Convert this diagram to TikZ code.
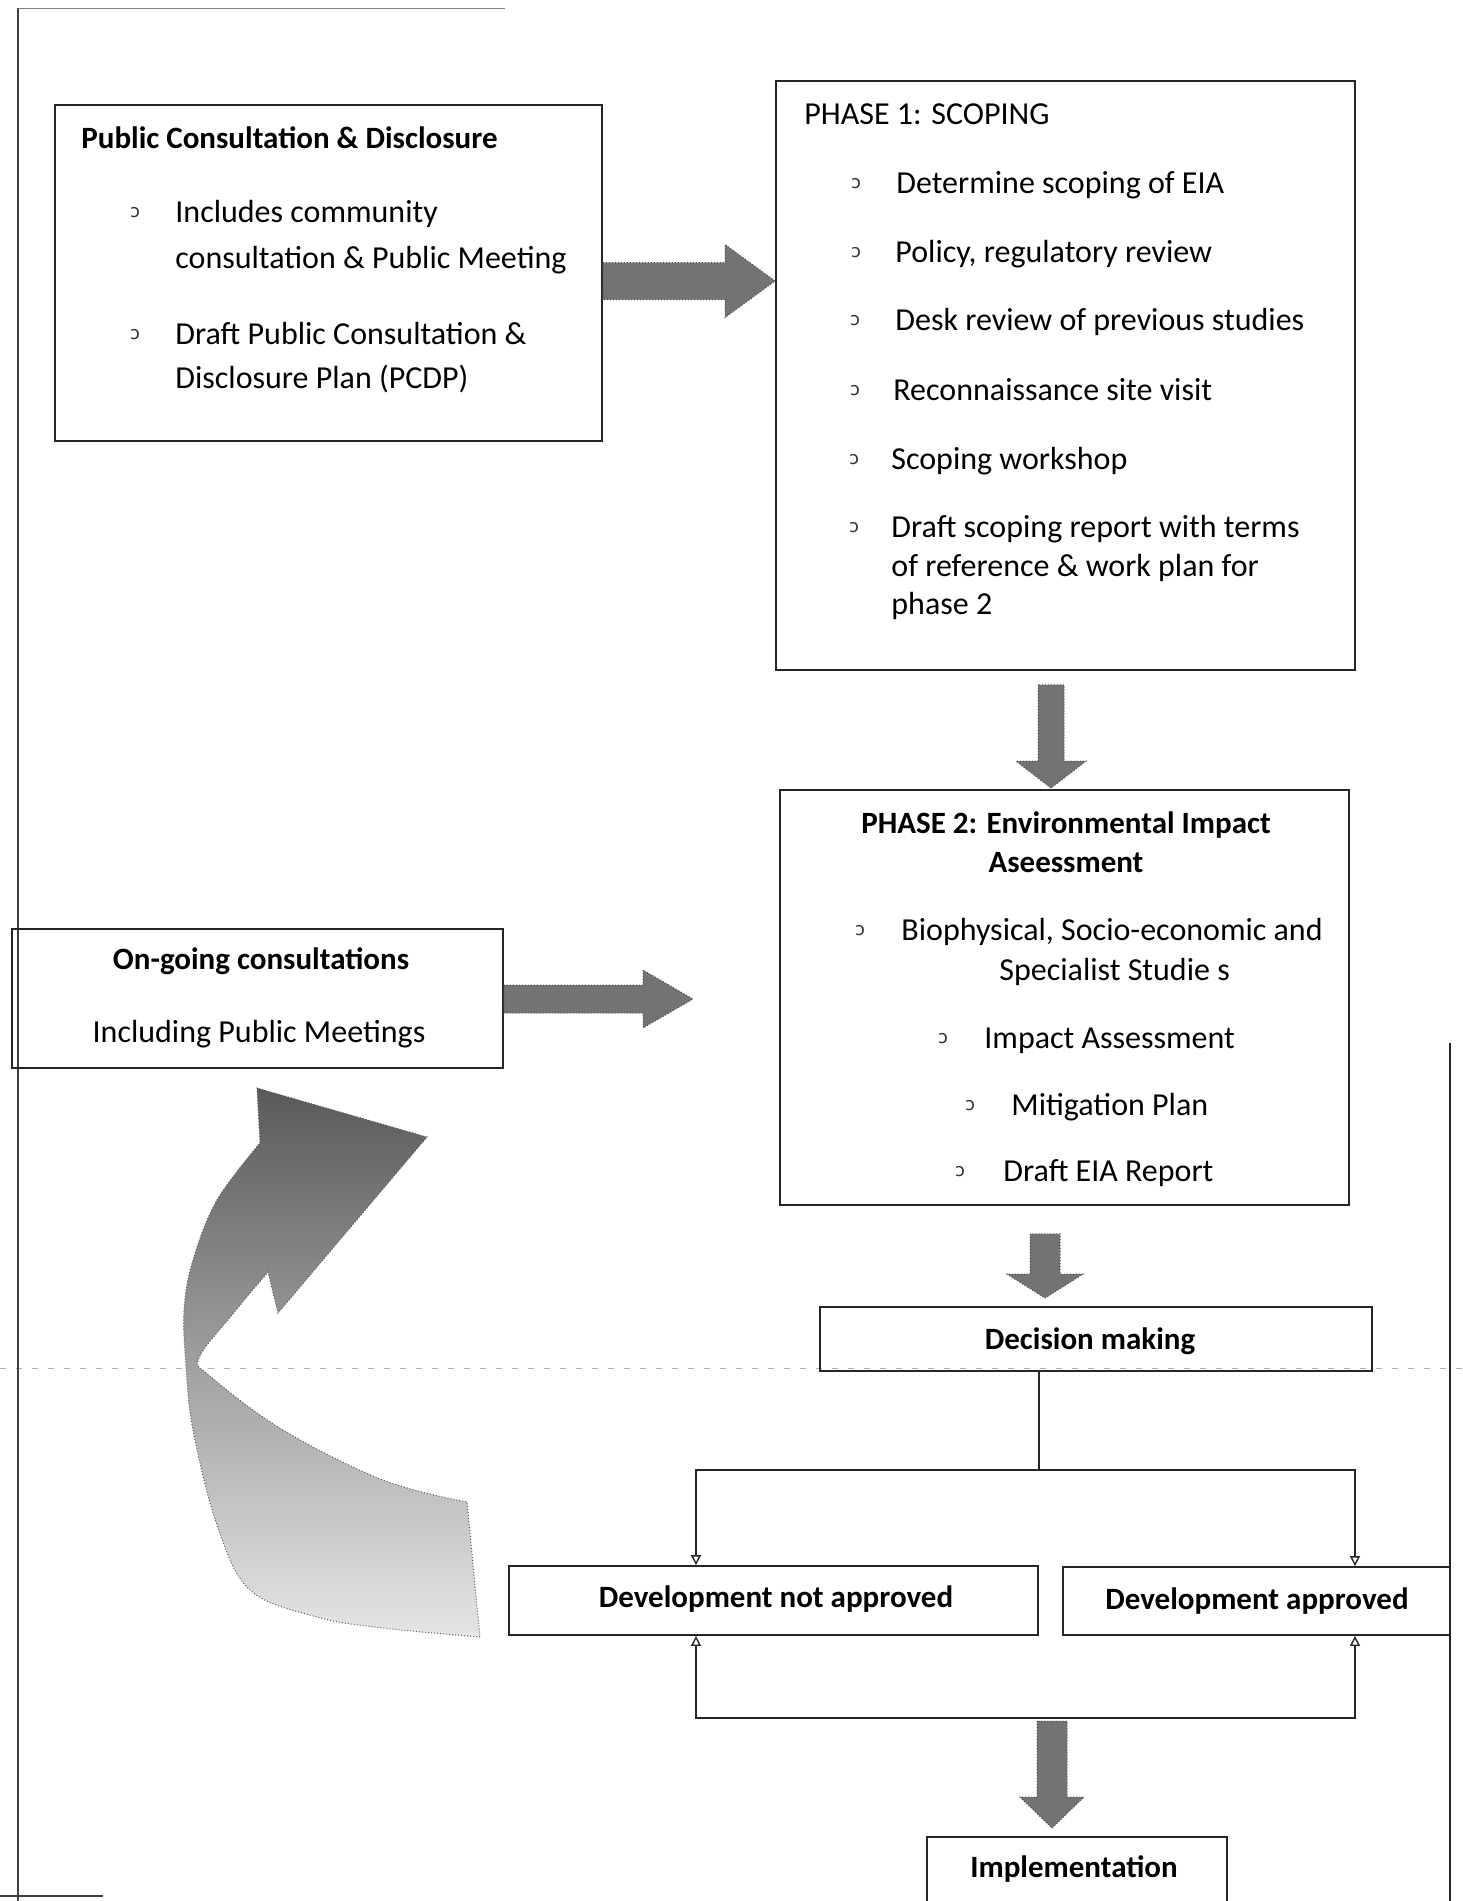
\documentclass[tikz,border=0pt]{standalone}
\usepackage{fontspec}
\setmainfont{Carlito}
\newfontfamily\bulfont{DejaVu Sans}
\usetikzlibrary{calc,arrows.meta,fit}
\newcommand\myharrow[5]{\draw[blockarrow] ($(#1)+(0,-#3)$) -- ($(#2)+(-#5,-#3)$) -- ($(#2)+(-#5,-#4)$) -- (#2) -- ($(#2)+(-#5,#4)$) -- ($(#2)+(-#5,#3)$) -- ($(#1)+(0,#3)$) -- cycle;}
\newcommand\myvarrow[5]{\draw[blockarrow] ($(#1)+(-#3,0)$) -- ($(#2)+(-#3,-#5)$) -- ($(#2)+(-#4,-#5)$) -- (#2) -- ($(#2)+(#4,-#5)$) -- ($(#2)+(#3,-#5)$) -- ($(#1)+(#3,0)$) -- cycle;}
\begin{document}
\begin{tikzpicture}[x=0.5pt,y=-0.5pt,
  box/.style={draw=black!85, line width=0.9pt, inner sep=0pt},
  txt/.style={font=\fontsize{16}{19}\selectfont, inner sep=0pt, anchor=base west},
  btxt/.style={font=\fontsize{15.5}{19}\selectfont\bfseries, inner sep=0pt},
  bul/.style={font=\bulfont\fontsize{9}{9}\selectfont, inner sep=0pt, text=black!80},
  conn/.style={draw=black!85, line width=0.7pt},
  tipend/.style={-{Triangle[open,length=5pt,width=5pt]}},
  blockarrow/.style={fill=black!55, draw=black!70, densely dotted, line width=0.5pt}
]
\useasboundingbox (0,0) rectangle (1462,1901);
\clip (0,0) rectangle (1462,1901);

% scan artefact line and page edges
\draw[black!30, dash pattern=on 3pt off 5pt, line width=0.5pt] (0,1368) -- (1462,1368);
\draw[black!75, line width=0.7pt] (18,8) -- (18,1901);
\draw[black!50, line width=0.5pt] (18,8) -- (505,8);
\draw[black!75, line width=0.7pt] (0,1896) -- (103,1896);
\draw[black!85, line width=0.9pt] (1450,1043) -- (1450,1901);

% boxes
\node[box, fit={(55,105) (602,441)}] (pub) {};
\node[box, fit={(776,81) (1355,670)}] (p1) {};
\node[box, fit={(780,790) (1349,1205)}] (p2) {};
\node[box, fit={(12,929) (503,1068)}] (ongo) {};
\node[box, fit={(820,1307) (1372,1371)}] (dec) {};
\node[box, fit={(509,1566) (1038,1635)}] (dnot) {};
\node[box, fit={(1063,1567) (1450,1635)}] (dapp) {};
\node[box, fit={(927,1837) (1227,1930)}] (impl) {};

% Public consultation box
\node[btxt, anchor=base west] (pubt) at (81,148) {Public Consultation \& Disclosure};
\node[bul] (pb1) at (135,213) {ɔ};
\node[txt] (pl1) at (175,222) {Includes community};
\node[txt] (pl2) at (175,268) {consultation \& Public Meeting};
\node[bul] (pb2) at (135,335) {ɔ};
\node[txt] (pl3) at (175,344) {Draft Public Consultation \&};
\node[txt] (pl4) at (175,388) {Disclosure Plan (PCDP)};

% Phase 1
\node[txt] (p1t) at (804,124) {PHASE 1: SCOPING};
\node[bul] (qb1) at (856,184) {ɔ};
\node[txt] (q1) at (896,193) {Determine scoping of EIA};
\node[bul] (qb2) at (856,253) {ɔ};
\node[txt] (q2) at (895,262) {Policy, regulatory review};
\node[bul] (qb3) at (855,321) {ɔ};
\node[txt] (q3) at (895,330) {Desk review of previous studies};
\node[bul] (qb4) at (855,391) {ɔ};
\node[txt] (q4) at (893,400) {Reconnaissance site visit};
\node[bul] (qb5) at (854,460) {ɔ};
\node[txt] (q5) at (891,469) {Scoping workshop};
\node[bul] (qb6) at (854,528) {ɔ};
\node[txt] (q6) at (891,537) {Draft scoping report with terms};
\node[txt] (q7) at (891,576) {of reference \& work plan for};
\node[txt] (q8) at (891,614) {phase 2};

% Phase 2
\node[btxt, anchor=base] (p2t) at (1066,833) {PHASE 2: Environmental Impact};
\node[btxt, anchor=base] (p2u) at (1066,872) {Aseessment};
\node[bul] (rb1) at (860,931) {ɔ};
\node[txt] (r1) at (901,940) {Biophysical, Socio-economic and};
\node[txt] (r2) at (999,980) {Specialist Studie s};
\node[bul] (rb2) at (943,1039) {ɔ};
\node[txt] (r3) at (984,1048) {Impact Assessment};
\node[bul] (rb3) at (970,1106) {ɔ};
\node[txt] (r4) at (1011,1115) {Mitigation Plan};
\node[bul] (rb4) at (960,1172) {ɔ};
\node[txt] (r5) at (1003,1181) {Draft EIA Report};

% On-going consultations
\node[btxt, anchor=base] (ot) at (261,969) {On-going consultations};
\node[txt, anchor=base] (ou) at (259,1042) {Including Public Meetings};

% single-line boxes
\node[btxt, anchor=base] (dect) at (1090,1349) {Decision making};
\node[btxt, anchor=base] (dnott) at (776,1607) {Development not approved};
\node[btxt, anchor=base] (dappt) at (1257,1609) {Development approved};
\node[btxt, anchor=base] (implt) at (1074,1877) {Implementation};

% block arrows
\coordinate (a1s) at (pub.east |- 0,281);
\coordinate (a1e) at (p1.west |- 0,281);
\myharrow{a1s}{a1e}{18.5}{36.5}{50}
\coordinate (a2s) at (ongo.east |- 0,999);
\coordinate (a2e) at (693,999);
\myharrow{a2s}{a2e}{14}{29}{50}
\coordinate (d1s) at ($(1051,0 |- p1.south)+(0,14)$);
\coordinate (d1e) at ($(1051,0 |- p2.north)+(0,-1)$);
\myvarrow{d1s}{d1e}{13}{35}{27}
\coordinate (d2s) at ($(1045,0 |- p2.south)+(0,28)$);
\coordinate (d2e) at ($(1045,0 |- dec.north)+(0,-8)$);
\myvarrow{d2s}{d2e}{15}{38}{24}

% decision connectors
\draw[conn] (dec.south -| 1039,0) -- (1039,1470) coordinate (split);
\draw[conn, tipend] (split) -| (dnot.north -| 696,0);
\draw[conn, tipend] (split) -| (dapp.north -| 1355,0);
\coordinate (join) at (1043,1718);
\draw[conn, tipend] (join) -| (dnot.south -| 696,0);
\draw[conn, tipend] (join) -| (dapp.south -| 1355,0);
\coordinate (d3s) at (1052,1721);
\coordinate (d3e) at ($(1052,0 |- impl.north)+(0,-8)$);
\myvarrow{d3s}{d3e}{15}{32}{31}

% curved feedback arrow
\shade[top color=black!65, bottom color=black!10, draw=black!65, densely dotted, line width=0.5pt]
  plot[smooth, tension=0.6] coordinates {(480,1637) (383,1628) (317,1617) (250,1590) (217,1525) (193,1430) (186,1366) (184,1310) (193,1260) (217,1200) (260,1143)}
  -- (257,1088) -- (427,1137) -- (278,1313) -- (268,1272)
  -- plot[smooth, tension=0.6] coordinates {(268,1272) (232,1315) (199,1358) (210,1376) (283,1430) (383,1480) (467,1502)}
  -- cycle;
\end{tikzpicture}
\end{document}
